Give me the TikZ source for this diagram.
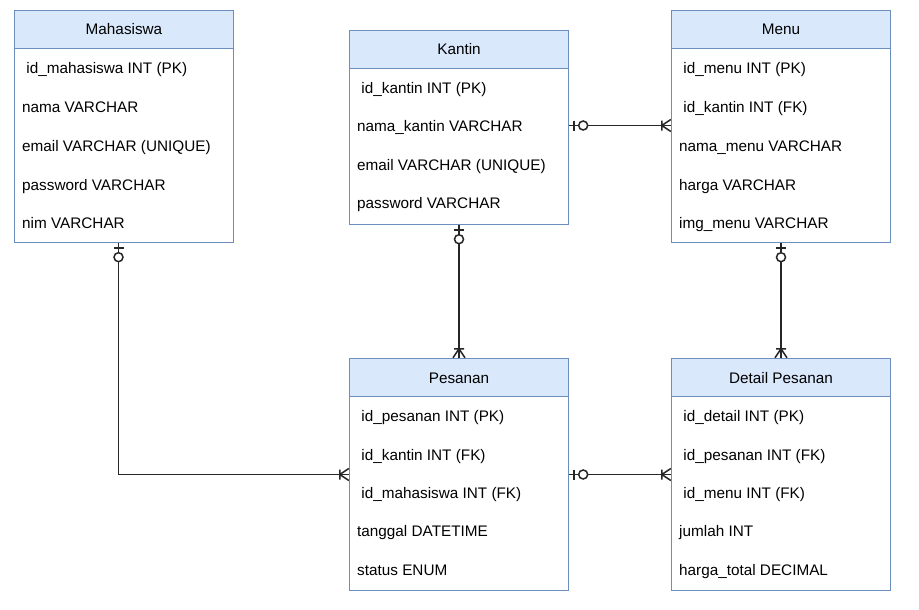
\documentclass[tikz,border=0pt]{standalone}
\usepackage{fontspec}
\setmainfont{Liberation Sans}
\usetikzlibrary{fit}
\definecolor{bc}{HTML}{6C8EBF}
\definecolor{hf}{HTML}{DAE8FC}
\begin{document}
\begin{tikzpicture}[x=1pt,y=-1pt, font=\fontsize{15.3}{18}\selectfont,
 hdr/.style={draw=bc, fill=hf, line width=1, minimum width=219, minimum height=38, anchor=north west, inner sep=0, text height=11, text depth=-2},
 bodybox/.style={draw=bc, fill=white, line width=1, minimum width=219, anchor=north west, inner sep=0},
 tbl/.style={inner sep=0, draw=none},
 row/.style={anchor=base west, inner sep=0},
 conn/.style={line width=1.5, draw=black!85},
 zeroone/.pic={\draw[conn] (5,-5)--(5,5); \draw[conn, fill=white] (14,0) circle (4.5);},
 onemany/.pic={\draw[conn] (9,-5)--(9,5) (9,0)--(0,-6) (9,0)--(0,6);}
]
\fill[white] (0,0) rectangle (919,610);
\useasboundingbox (0,0) rectangle (919,610);

% Mahasiswa
\node[bodybox, minimum height=194] (mahb) at (14,48) {};
\node[hdr] (mahh) at (14,10) {Mahasiswa};
\node[tbl, fit=(mahh)(mahb)] (mah) {};
\node[row] (mah1) at (22,74) {\ id\_mahasiswa INT (PK)};
\node[row] (mah2) at (22,112.5) {nama VARCHAR};
\node[row] (mah3) at (22,151.5) {email VARCHAR (UNIQUE)};
\node[row] (mah4) at (22,190) {password VARCHAR};
\node[row] (mah5) at (22,228.5) {nim VARCHAR};

% Kantin
\node[bodybox, minimum height=156] (kanb) at (349,68) {};
\node[hdr] (kanh) at (349,30) {Kantin};
\node[tbl, fit=(kanh)(kanb)] (kan) {};
\node[row] (kan1) at (357,93) {\ id\_kantin INT (PK)};
\node[row] (kan2) at (357,131.5) {nama\_kantin VARCHAR};
\node[row] (kan3) at (357,170) {email VARCHAR (UNIQUE)};
\node[row] (kan4) at (357,208.5) {password VARCHAR};

% Menu
\node[bodybox, minimum height=194] (menb) at (671,48) {};
\node[hdr] (menh) at (671,10) {Menu};
\node[tbl, fit=(menh)(menb)] (men) {};
\node[row] (men1) at (679,74) {\ id\_menu INT (PK)};
\node[row] (men2) at (679,112.5) {\ id\_kantin INT (FK)};
\node[row] (men3) at (679,151.5) {nama\_menu VARCHAR};
\node[row] (men4) at (679,190) {harga VARCHAR};
\node[row] (men5) at (679,228.5) {img\_menu VARCHAR};

% Pesanan
\node[bodybox, minimum height=194] (pesb) at (349,396) {};
\node[hdr] (pesh) at (349,358) {Pesanan};
\node[tbl, fit=(pesh)(pesb)] (pes) {};
\node[row] (pes1) at (357,421.5) {\ id\_pesanan INT (PK)};
\node[row] (pes2) at (357,460) {\ id\_kantin INT (FK)};
\node[row] (pes3) at (357,498.5) {\ id\_mahasiswa INT (FK)};
\node[row] (pes4) at (357,536.5) {tanggal DATETIME};
\node[row] (pes5) at (357,575) {status ENUM};

% Detail Pesanan
\node[bodybox, minimum height=194] (detb) at (671,396) {};
\node[hdr] (deth) at (671,358) {Detail Pesanan};
\node[tbl, fit=(deth)(detb)] (det) {};
\node[row] (det1) at (679,421.5) {\ id\_detail INT (PK)};
\node[row] (det2) at (679,460) {\ id\_pesanan INT (FK)};
\node[row] (det3) at (679,498.5) {\ id\_menu INT (FK)};
\node[row] (det4) at (679,536.5) {jumlah INT};
\node[row] (det5) at (679,575) {harga\_total DECIMAL};

% connectors
\coordinate (mahs) at ([xshift=-5.5]mah.south);
\draw[conn] (mahs) |- (pes.west);
\pic[rotate=-90] at (mahs) {zeroone};
\pic[rotate=180] at (pes.west) {onemany};

\coordinate (kane) at ([yshift=2]kan.east);
\draw[conn] (kane) -- (kane -| men.west);
\pic at (kane) {zeroone};
\pic[rotate=180] at (kane -| men.west) {onemany};

\draw[conn] (kan.south) -- (kan.south |- pes.north);
\pic[rotate=-90] at (kan.south) {zeroone};
\pic[rotate=90] at (kan.south |- pes.north) {onemany};

\draw[conn] (men.south) -- (men.south |- det.north);
\pic[rotate=-90] at (men.south) {zeroone};
\pic[rotate=90] at (men.south |- det.north) {onemany};

\draw[conn] (pes.east) -- (det.west);
\pic at (pes.east) {zeroone};
\pic[rotate=180] at (det.west) {onemany};
\end{tikzpicture}
\end{document}
